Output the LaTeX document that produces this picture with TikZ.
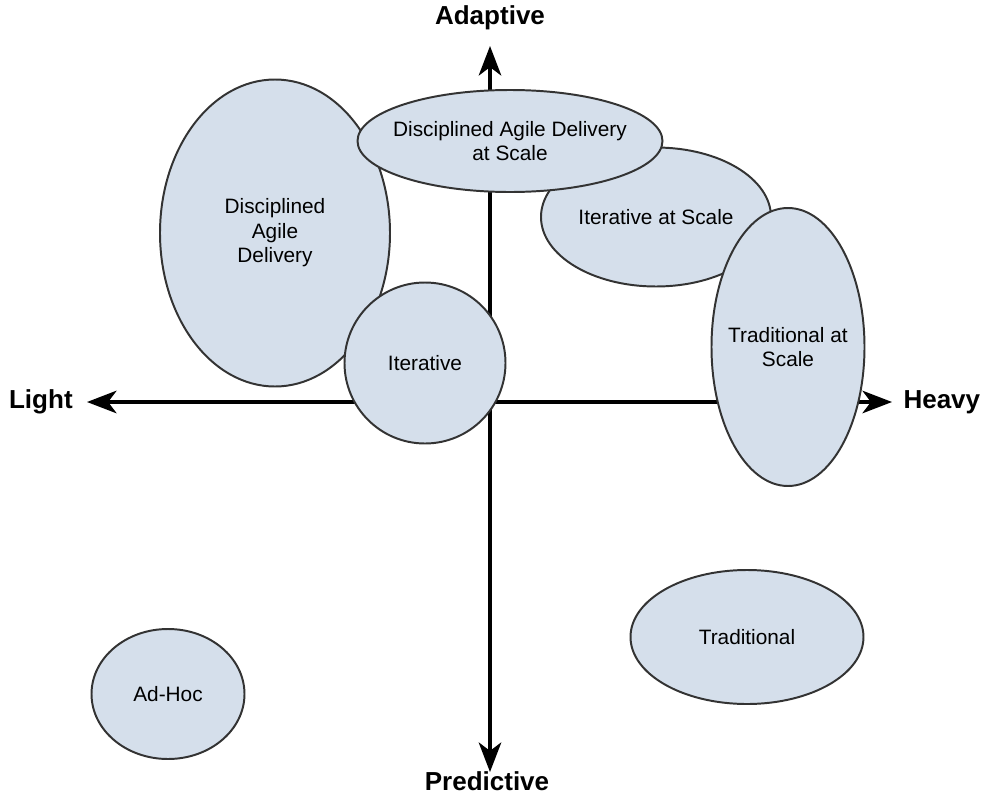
\documentclass[tikz,border=0pt]{standalone}
\usepackage{fontspec}
\setmainfont{Liberation Sans}
\usetikzlibrary{arrows.meta,shapes.geometric,positioning}
\definecolor{blobfill}{HTML}{D5DFEB}
\definecolor{blobline}{HTML}{333333}

\begin{document}
\begin{tikzpicture}[x=0.025cm,y=-0.025cm,
  blob/.style={ellipse,draw=blobline,fill=blobfill,line width=1.4pt,inner sep=0pt,
    label={[blobtext]center:{#1}}},
  blobtext/.style={align=center,inner sep=0pt,font=\fontsize{14.8}{17.5}\selectfont},
  axis/.style={line width=2.6pt,black,{Stealth[length=21pt,width=16pt,inset=6pt]}-{Stealth[length=21pt,width=16pt,inset=6pt]}},
  axislabel/.style={font=\fontsize{18.5}{22}\selectfont\bfseries,inner sep=0pt}]
\useasboundingbox (0,0) rectangle (982,796);
% axes
\coordinate (west) at (87,402);
\coordinate (east) at (892,402);
\coordinate (north) at (490,46);
\coordinate (south) at (490,772);
\node[axislabel,left=10pt of west] (light) {Light};
\node[axislabel,right=8pt of east] (heavy) {Heavy};
\node[axislabel] (adaptive) at (490,18) {Adaptive};
\node[axislabel] (predictive) at (487,781) {Predictive};
\draw[axis] (west) -- (east);
\draw[axis] (north) -- (south);
% the ellipses
\node[blob={Disciplined\\Agile\\Delivery},minimum width=230*0.025cm,minimum height=307*0.025cm] (dad) at (275,233) {};
\node[blob={Iterative at Scale},minimum width=230*0.025cm,minimum height=139*0.025cm] (itscale) at (656,217) {};
\node[blob={Disciplined Agile Delivery\\at Scale},minimum width=305*0.025cm,minimum height=102*0.025cm] (dadscale) at (510,141) {};
\node[blob={Traditional at\\Scale},minimum width=153*0.025cm,minimum height=278*0.025cm] (tradscale) at (788,347) {};
\node[blob={Iterative},minimum width=161*0.025cm,minimum height=161*0.025cm] (iterative) at (425,363) {};
\node[blob={Traditional},minimum width=233*0.025cm,minimum height=134*0.025cm] (traditional) at (747,637) {};
\node[blob={Ad-Hoc},minimum width=153*0.025cm,minimum height=130*0.025cm] (adhoc) at (168,694) {};
\end{tikzpicture}
\end{document}
